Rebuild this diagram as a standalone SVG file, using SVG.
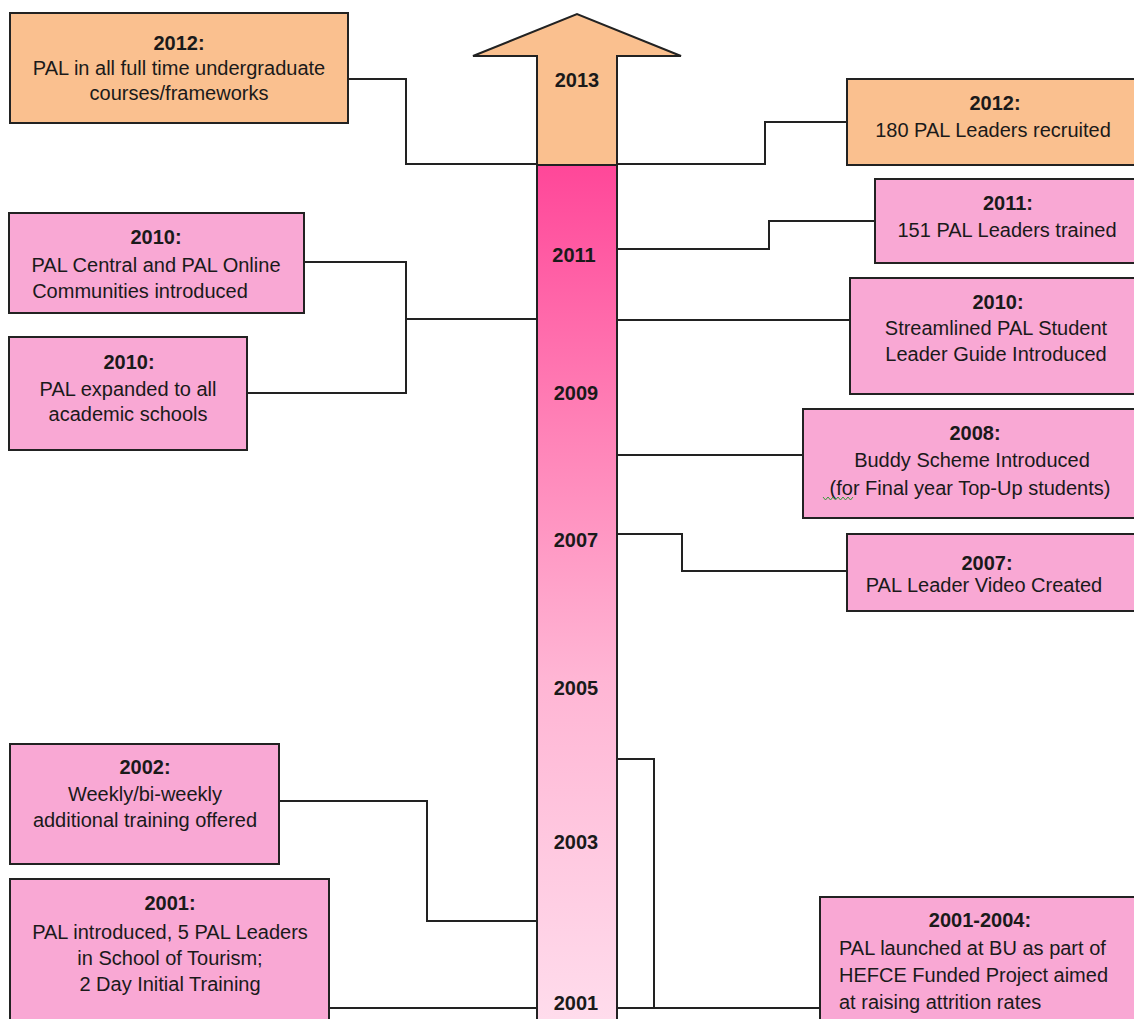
<svg xmlns="http://www.w3.org/2000/svg" width="1134" height="1019" viewBox="0 0 1134 1019">
<style>
  text { font-family: "Liberation Sans", Arial, sans-serif; font-size: 20px; fill: #1a1a1a; }
  .c { text-anchor: middle; }
  .b { font-weight: bold; }
  .box { stroke: #222; stroke-width: 2; }
  .org { fill: #FAC08F; }
  .pnk { fill: #F9A8D4; }
  .conn path { fill: none; stroke: #222; stroke-width: 2; }
</style>
<defs>
  <linearGradient id="bar" x1="0" y1="165" x2="0" y2="1019" gradientUnits="userSpaceOnUse">
    <stop offset="0" stop-color="#FF4799"/>
    <stop offset="0.3" stop-color="#FF80B6"/>
    <stop offset="0.6" stop-color="#FFB5D4"/>
    <stop offset="1" stop-color="#FFDCEC"/>
  </linearGradient>
</defs>
<rect width="1134" height="1019" fill="#fff"/>

<g id="timeline">
  <polygon points="537,165 537,56 473,56 577,14 681,56 617,56 617,165" class="org" stroke="#222" stroke-width="2" stroke-linejoin="miter"/>
  <rect x="537" y="165" width="80" height="870" fill="url(#bar)" stroke="#222" stroke-width="2"/>
  <text class="c b" x="577" y="87">2013</text>
  <text class="c b" x="574" y="262">2011</text>
  <text class="c b" x="576" y="400">2009</text>
  <text class="c b" x="576" y="547">2007</text>
  <text class="c b" x="576" y="695">2005</text>
  <text class="c b" x="576" y="849">2003</text>
  <text class="c b" x="576" y="1010">2001</text>
</g>

<g class="conn" id="connectors">
  <path d="M348,79 H406 V164 H537"/>
  <path d="M617,164 H765 V122 H847"/>
  <path d="M617,249 H769 V221 H875"/>
  <path d="M617,320 H850"/>
  <path d="M304,262 H406 V393 H247"/>
  <path d="M406,319 H537"/>
  <path d="M617,455 H803"/>
  <path d="M617,534 H682 V571 H847"/>
  <path d="M279,801 H427 V921 H537"/>
  <path d="M329,1008 H537"/>
  <path d="M617,759 H654 V1008"/>
  <path d="M617,1008 H820"/>
</g>

<g id="n2012left">
  <rect x="10" y="13" width="338" height="110" class="box org"/>
  <text class="c b" x="179" y="50">2012:</text>
  <text class="c" x="179" y="75">PAL in all full time undergraduate</text>
  <text class="c" x="179" y="100">courses/frameworks</text>
</g>

<g id="n2012right">
  <rect x="847" y="79" width="300" height="86" class="box org"/>
  <text class="c b" x="995" y="110">2012:</text>
  <text class="c" x="993" y="137">180 PAL Leaders recruited</text>
</g>

<g id="n2011">
  <rect x="875" y="179" width="270" height="84" class="box pnk"/>
  <text class="c b" x="1008" y="210">2011:</text>
  <text class="c" x="1007" y="237">151 PAL Leaders trained</text>
</g>

<g id="n2010right">
  <rect x="850" y="278" width="300" height="116" class="box pnk"/>
  <text class="c b" x="998" y="309">2010:</text>
  <text class="c" x="996" y="335">Streamlined PAL Student</text>
  <text class="c" x="996" y="361">Leader Guide Introduced</text>
</g>

<g id="n2008">
  <rect x="803" y="409" width="340" height="109" class="box pnk"/>
  <text class="c b" x="975" y="440">2008:</text>
  <text class="c" x="972" y="467">Buddy Scheme Introduced</text>
  <text class="c" x="970" y="495">(for Final year Top-Up students)</text>
  <path d="M823,497 l2.5,3 l2.5,-3 l2.5,3 l2.5,-3 l2.5,3 l2.5,-3 l2.5,3 l2.5,-3 l2.5,3 l2.5,-3 l2.5,3 l2.5,-3" fill="none" stroke="#3a9a3a" stroke-width="1"/>
</g>

<g id="n2007">
  <rect x="847" y="534" width="300" height="77" class="box pnk"/>
  <text class="c b" x="987" y="570">2007:</text>
  <text class="c" x="984" y="592">PAL Leader Video Created</text>
</g>

<g id="n2010a">
  <rect x="9" y="213" width="295" height="100" class="box pnk"/>
  <text class="c b" x="156" y="244">2010:</text>
  <text class="c" x="156" y="272">PAL Central and PAL Online</text>
  <text class="c" x="140" y="298">Communities introduced</text>
</g>

<g id="n2010b">
  <rect x="9" y="337" width="238" height="113" class="box pnk"/>
  <text class="c b" x="129" y="369">2010:</text>
  <text class="c" x="128" y="396">PAL expanded to all</text>
  <text class="c" x="128" y="421">academic schools</text>
</g>

<g id="n2002">
  <rect x="10" y="744" width="269" height="120" class="box pnk"/>
  <text class="c b" x="145" y="774">2002:</text>
  <text class="c" x="145" y="801">Weekly/bi-weekly</text>
  <text class="c" x="145" y="827">additional training offered</text>
</g>

<g id="n2001">
  <rect x="10" y="879" width="319" height="150" class="box pnk"/>
  <text class="c b" x="170" y="910">2001:</text>
  <text class="c" x="170" y="939">PAL introduced, 5 PAL Leaders</text>
  <text class="c" x="170" y="965">in School of Tourism;</text>
  <text class="c" x="170" y="991">2 Day Initial Training</text>
</g>

<g id="n2001-2004">
  <rect x="820" y="897" width="330" height="130" class="box pnk"/>
  <text class="c b" x="980" y="927">2001-2004:</text>
  <text x="839" y="955">PAL launched at BU as part of</text>
  <text x="839" y="982">HEFCE Funded Project aimed</text>
  <text x="839" y="1009">at raising attrition rates</text>
</g>
</svg>
